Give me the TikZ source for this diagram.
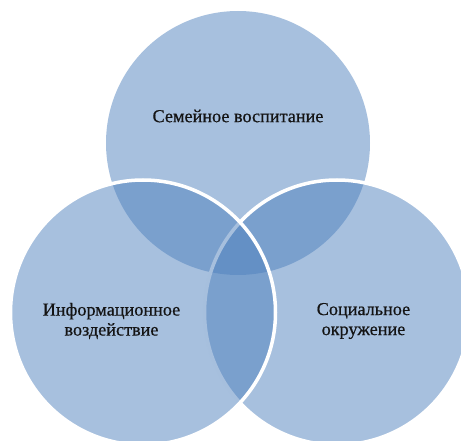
\documentclass[tikz,border=0pt]{standalone}
\usepackage{fontspec}
\setmainfont{Liberation Serif}[FakeBold=0.6]
\definecolor{venn}{HTML}{4F81BD}
\definecolor{txt}{HTML}{141414}
\begin{document}
\begin{tikzpicture}[x=1pt,y=-1pt,
  set/.style={fill=venn, fill opacity=0.5},
  ring/.style={draw=white, line width=3.5pt},
  lbl/.style={text=txt, font=\fontsize{18.2}{20}\selectfont, align=center, inner sep=0pt}]
\useasboundingbox (0,0) rectangle (461,441);
\begin{scope}
\clip (0,0) rectangle (461,441);
\fill[set] (238,143) circle[radius=132pt];
\filldraw[set, ring] (337,312.5) circle[radius=132.5pt];
\filldraw[set, ring] (143,312.5) circle[radius=132.5pt];
\end{scope}
\node[lbl] (fam) at (238,116) {Семейное воспитание};
\node[lbl] (info) at (111.5,321) {Информационное\\воздействие};
\node[lbl] (soc) at (363.5,321) {Социальное\\окружение};
\end{tikzpicture}
\end{document}
